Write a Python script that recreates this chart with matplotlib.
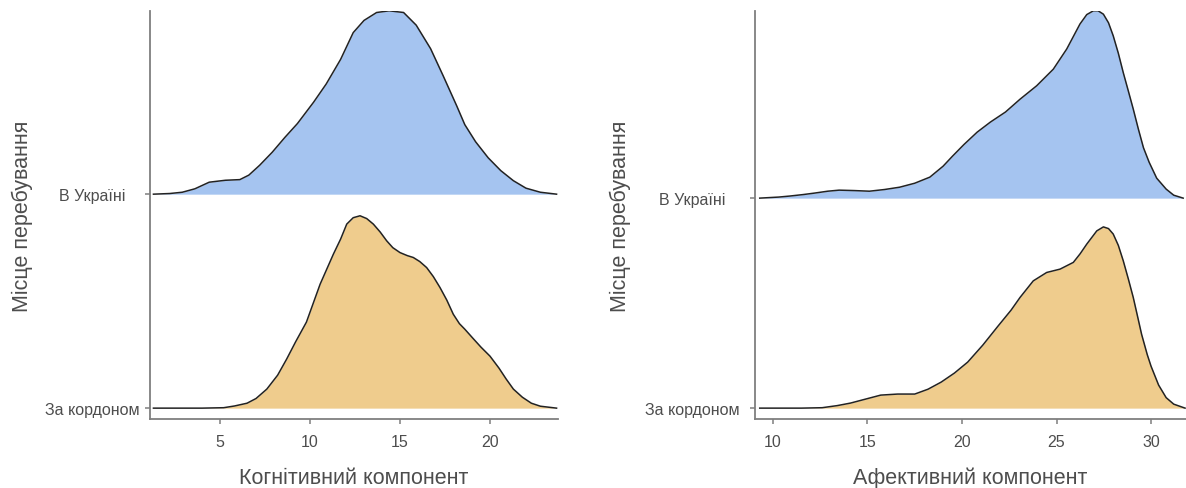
import numpy as np
import matplotlib
matplotlib.use("Agg")
import matplotlib.pyplot as plt

plt.rcParams['font.family'] = ['Liberation Sans', 'DejaVu Sans']

groups = ['За кордоном', 'В Україні']
ylabel = 'Місце перебування'

# ridge heights as % of the row spacing
cog_ua_x = [1.3, 2.2, 2.9, 3.6, 4.4, 5.3, 6.1, 6.6, 7.2, 7.9, 8.6, 9.3, 10.2, 10.9, 11.7, 12.4,
            13.0, 13.7, 14.4, 15.2, 15.9, 16.7, 17.4, 18.15, 18.6, 19.2, 19.9, 20.6, 21.3, 22.0,
            22.8, 23.7]
cog_ua_h = [0, 0.3, 0.9, 2.5, 5.6, 6.5, 6.8, 8.9, 13.5, 19.6, 26.5, 33.0, 43.0, 51.5, 63.0, 75.5,
            81.2, 84.9, 85.7, 84.9, 79.0, 68.0, 55.3, 41.3, 32.5, 24.5, 17.0, 11.0, 6.3, 2.8,
            0.9, 0]

cog_ab_x = [1.3, 4.0, 5.2, 5.8, 6.5, 7.0, 7.6, 8.2, 8.7, 9.2, 9.8, 10.56, 11.3, 11.7, 12.04, 12.4,
            12.78, 13.15, 13.52, 13.9, 14.26, 14.6, 15.0, 15.4, 15.74, 16.1, 16.48, 16.85, 17.22,
            17.6, 17.96, 18.3, 18.6, 19.1, 19.5, 20.0, 20.5, 20.9, 21.3, 21.8, 22.3, 22.8, 23.7]
cog_ab_h = [0, 0, 0.2, 1.0, 2.3, 4.5, 8.9, 15.4, 22.9, 31.0, 40.2, 57.9, 72.0, 79.0, 86.0, 89.0,
            89.9, 88.6, 86.0, 82.3, 78.2, 75.0, 72.7, 71.3, 70.4, 68.5, 65.7, 61.5, 56.4,
            50.5, 43.9, 39.5, 36.9, 32.2, 28.5, 24.3, 18.7, 13.6, 8.9, 5.1, 2.3, 0.9, 0]

aff_ua_x = [9.3, 10.3, 10.9, 11.6, 12.2, 12.9, 13.5, 14.3, 15.1, 15.9, 16.7, 17.5, 18.3, 19.0,
            19.5, 20.1, 20.8, 21.5, 22.3, 23.07, 23.95, 24.83, 25.54, 26.24, 26.6, 26.95, 27.2,
            27.48, 27.75, 28.0, 28.27, 28.53, 28.8, 29.06, 29.33, 29.6, 29.9, 30.3, 30.8, 31.2, 31.7]
aff_ua_h = [0, 0.5, 1.0, 1.7, 2.4, 3.3, 3.8, 3.6, 3.3, 4.1, 5.2, 7.1, 10.0, 15.2,
            20.0, 25.5, 31.4, 36.2, 41.0, 47.1, 53.5, 61.4, 71.0, 82.9, 87.4, 89.2, 89.2,
            87.6, 83.5, 77.3, 69.0, 59.8, 51.0, 42.4, 32.9, 24.0, 17.1, 9.5, 4.3, 1.4, 0]

aff_ab_x = [9.3, 11.5, 12.6, 13.4, 14.1, 14.9, 15.7, 16.6, 17.5, 18.2, 18.9, 19.6, 20.3, 21.1,
            21.9, 22.6, 23.07, 23.77, 24.48, 25.19, 25.89, 26.25, 26.6, 27.13, 27.48, 27.75, 28.0,
            28.27, 28.53, 28.8, 29.06, 29.28, 29.5, 29.8, 30.0, 30.4, 30.8, 31.2, 31.8]
aff_ab_h = [0, 0, 0.2, 1.2, 2.4, 4.3, 6.2, 6.7, 6.7, 9.0, 12.4, 16.7, 21.9, 30.0,
            39.0, 46.7, 52.7, 60.6, 64.6, 66.2, 69.4, 73.5, 78.1, 84.4, 86.3, 85.5, 82.9,
            77.5, 70.2, 61.5, 52.7, 44.0, 35.2, 25.5, 20.0, 11.0, 5.0, 1.9, 0]

blue = '#a5c4f0'
orange = '#efcc8d'
axis_col = '#7f7f7f'
text_col = '#4d4d4d'

fig = plt.figure(figsize=(11.86, 4.89), dpi=100)
ax1 = fig.add_axes([0.1265, 0.141, 0.344, 0.834])
ax2 = fig.add_axes([0.6366, 0.141, 0.3634, 0.834])

panels = [
    (ax1, [(cog_ab_x, cog_ab_h, orange), (cog_ua_x, cog_ua_h, blue)],
     'Когнітивний компонент', (1.11, 23.78), (0.949, 2.855), [5, 10, 15, 20], 38),
    (ax2, [(aff_ab_x, aff_ab_h, orange), (aff_ua_x, aff_ua_h, blue)],
     'Афективний компонент', (9.05, 31.85), (0.948, 2.89), [10, 15, 20, 25, 30], 42),
]

for ax, ridges, xlab, xl, yl, xt, ypad in panels:
    # upper ridge first so the lower one sits on top
    for i in [1, 0]:
        x, h, c = ridges[i]
        base = i + 1
        y = base + np.array(h) / 100.0
        ax.fill_between(x, base, y, color=c, lw=0, zorder=2 + (1 - i))
        ax.plot(x, y, color='#222222', lw=1.1, solid_joinstyle='round', zorder=2.5 + (1 - i))
    ax.set_xlim(*xl)
    ax.set_ylim(*yl)
    ax.set_xticks(xt)
    ax.set_yticks([1, 2])
    ax.set_yticklabels(groups, ha='center')
    for s in ['top', 'right']:
        ax.spines[s].set_visible(False)
    for s in ['left', 'bottom']:
        ax.spines[s].set_color(axis_col)
        ax.spines[s].set_linewidth(1.3)
    ax.tick_params(axis='both', colors=axis_col, length=3.5, width=1.1, labelcolor=text_col,
                   labelsize=11.5)
    ax.tick_params(axis='y', pad=ypad)
    ax.tick_params(axis='x', pad=7)
    ax.set_xlabel(xlab, fontsize=15.5, color=text_col, labelpad=13)
    ax.set_ylabel(ylabel, fontsize=15.5, color=text_col)
    ax.yaxis.set_label_coords(-0.287, 0.5)
    ax.patch.set_alpha(0)

fig.savefig('out.png', dpi=100)
